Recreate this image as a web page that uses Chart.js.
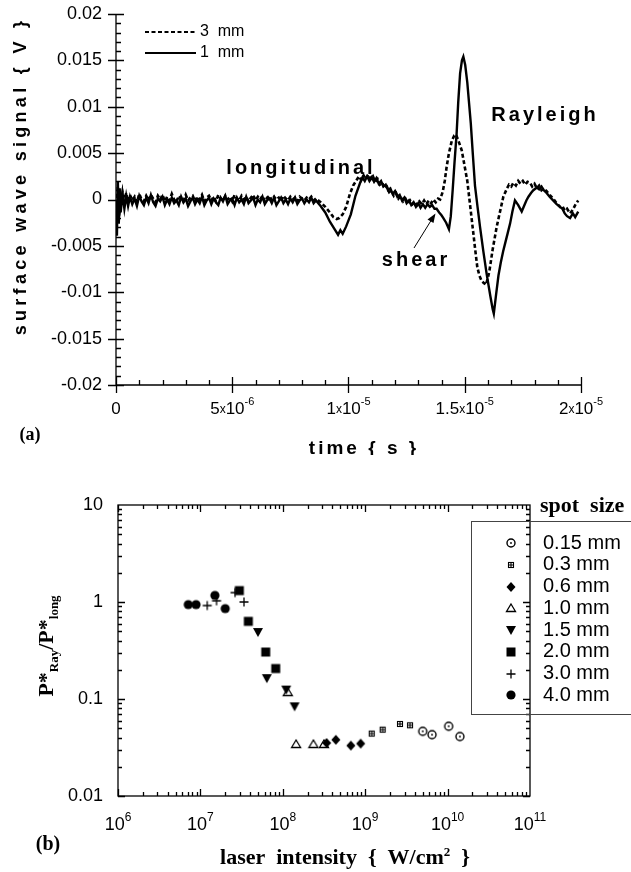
<!DOCTYPE html>
<html>
<head>
<meta charset="utf-8">
<script src="https://cdn.jsdelivr.net/npm/chart.js@4.4.1/dist/chart.umd.min.js"></script>
<style>
  html, body { margin: 0; padding: 0; background: #fff; }
  body { width: 631px; height: 872px; position: relative; overflow: hidden; }
  .panel { position: absolute; left: 0; width: 631px; }
  #waveWrap { top: 0; height: 455px; }
  #ratioWrap { top: 455px; height: 417px; }
</style>
</head>
<body>
<div class="panel" id="waveWrap"><canvas id="waveChart" width="631" height="455"></canvas></div>
<div class="panel" id="ratioWrap"><canvas id="ratioChart" width="631" height="417"></canvas></div>

<script>
// ── (a) surface wave signal: time in µs, signal in mV ─────────
const T_BASE = [0.6, 0.7, 0.8, 0.9, 1.0, 1.1, 1.2, 1.3, 1.4, 1.5,
  1.6, 1.7, 1.8, 1.9, 2.0, 2.1, 2.2, 2.3, 2.4, 2.5,
  2.6, 2.7, 2.8, 2.9, 3.0, 3.1, 3.2, 3.3, 3.4, 3.5,
  3.6, 3.7, 3.8, 3.9, 4.0, 4.1, 4.2, 4.3, 4.4, 4.5,
  4.6, 4.7, 4.8, 4.9, 5.0, 5.1, 5.2, 5.3, 5.4, 5.5,
  5.6, 5.7, 5.8, 5.9, 6.0, 6.1, 6.2, 6.3, 6.4, 6.5,
  6.6, 6.7, 6.8, 6.9, 7.0, 7.1, 7.2, 7.3, 7.4, 7.5,
  7.6, 7.7, 7.8, 7.9, 8.0, 8.1, 8.2, 8.3, 8.4, 8.5,
  8.6];

const T_3MM = [0, 0.04, 0.08, 0.12, 0.16, 0.2, 0.28, 0.36, 0.44, 0.52,
  ...T_BASE,
  8.8, 9.0, 9.2, 9.35, 9.49, 9.6, 9.75, 9.9, 10.06, 10.2, 10.35, 10.45, 10.55, 10.65, 10.75,
  10.85, 10.95, 11.05, 11.15, 11.25, 11.35, 11.45, 11.55, 11.65, 11.75, 11.85, 11.95, 12.05,
  12.15, 12.25, 12.35, 12.45, 12.55, 12.65, 12.75, 12.85, 12.95, 13.05, 13.15, 13.25, 13.35,
  13.45, 13.55, 13.65, 13.75, 13.85, 13.94, 14.05, 14.14, 14.22, 14.32, 14.44, 14.55, 14.62,
  14.72, 14.87, 14.98, 15.11, 15.22, 15.34, 15.44, 15.54, 15.63, 15.73, 15.82, 15.91, 16.0,
  16.06, 16.2, 16.37, 16.5, 16.66, 16.8, 16.9, 17.0, 17.09, 17.2, 17.3, 17.4, 17.5, 17.6,
  17.7, 17.81, 17.9, 18.0, 18.1, 18.2, 18.3, 18.4, 18.52, 18.65, 18.8, 18.95, 19.1, 19.2,
  19.3, 19.4, 19.53, 19.65, 19.75, 19.88];
const V_3MM = [0.6, -2.4, 1.4, -1.2, 0.9, -0.6, 0.8, -0.3, 0.7, -0.2,
  0.5, -0.1, 0.3, -0.3, 0.6, 0.0, -0.2, 0.4, -0.1, 0.5,
  0.1, -0.3, 0.4, 0.0, 0.5, -0.2, 0.3, -0.1, 0.6, 0.0,
  -0.3, 0.4, 0.1, -0.2, 0.5, -0.1, 0.2, 0.4, -0.2, 0.3,
  0.0, 0.5, -0.2, 0.2, 0.4, -0.1, 0.3, -0.2, 0.5, 0.1,
  -0.1, 0.4, 0.0, 0.3, -0.2, 0.5, 0.1, -0.1, 0.4, 0.0,
  0.3, -0.2, 0.2, 0.5, -0.1, 0.3, 0.0, 0.4, -0.2, 0.2,
  0.4, -0.1, 0.3, 0.0, 0.2, -0.2, 0.4, 0.1, -0.1, 0.3,
  0.0, 0.2, -0.2, 0.3, 0.1, -0.1, 0.2, 0.0, 0.3, -0.1,
  0.1,
  -0.3, -0.8, -1.4, -1.9, -2.1, -2.0, -1.6, -0.8, 0.6, 1.5, 2.1, 2.5, 2.1, 2.6, 2.2,
  2.7, 2.2, 2.5, 1.9, 2.2, 1.6, 1.8, 1.2, 1.4, 0.8, 1.0, 0.4, 0.7,
  0.1, 0.4, -0.2, 0.1, -0.4, -0.1, -0.5, -0.2, -0.6, -0.2, -0.5, -0.1, -0.5,
  -0.1, -0.4, 0.0, -0.3, 0.1, 0.0, 0.8, 2.0, 3.5, 5.0, 6.3, 6.9, 7.0,
  6.4, 5.3, 3.8, 2.0, -0.4, -3.0, -5.2, -7.3, -8.2, -8.8, -9.0, -9.2, -8.4,
  -7.7, -5.4, -3.0, -1.5, 0.3, 1.1, 1.6, 1.4, 1.8, 1.5, 2.0, 1.7, 2.0, 1.6,
  1.9, 1.8, 1.4, 1.7, 1.2, 1.5, 1.0, 1.2, 0.9, 0.5, 0.1, -0.4, -0.8, -0.7,
  -1.2, -1.0, -1.5, -1.1, -0.6, -0.1];

const T_1MM = [0, 0.04, 0.08, 0.12, 0.16, 0.2, 0.28, 0.36, 0.44, 0.52,
  ...T_BASE,
  8.8, 9.0, 9.2, 9.4, 9.55, 9.65, 9.75, 9.9, 10.1, 10.3, 10.5, 10.6, 10.7, 10.8, 10.9, 11.0,
  11.1, 11.2, 11.3, 11.4, 11.5, 11.6, 11.7, 11.8, 11.9, 12.0, 12.1, 12.2, 12.3, 12.4, 12.5,
  12.6, 12.7, 12.8, 12.9, 13.0, 13.1, 13.2, 13.3, 13.4, 13.5, 13.6, 13.7, 13.79, 13.9, 14.0,
  14.08, 14.2, 14.32, 14.4, 14.48, 14.56, 14.65, 14.72, 14.8, 14.88, 14.94, 15.02, 15.11,
  15.26, 15.35, 15.44, 15.55, 15.66, 15.8, 15.94, 16.1, 16.2, 16.25, 16.35, 16.45, 16.55,
  16.65, 16.75, 16.85, 16.95, 17.05, 17.16, 17.3, 17.45, 17.55, 17.65, 17.74, 17.85, 17.95,
  18.1, 18.2, 18.3, 18.4, 18.52, 18.65, 18.8, 18.95, 19.1, 19.2, 19.3, 19.4, 19.53, 19.65,
  19.75, 19.88];
const V_1MM = [-0.3, -3.9, 1.9, -2.6, 1.2, -1.4, 0.6, -1.0, 0.4, -0.7,
  0.3, -0.5, 0.1, -0.7, 0.4, -0.2, -0.6, 0.2, -0.4, 0.5,
  -0.3, -0.7, 0.1, -0.2, 0.3, -0.6, 0.0, -0.5, 0.2, -0.4,
  -0.1, -0.6, 0.3, -0.3, 0.1, -0.7, -0.2, 0.2, -0.5, 0.0,
  -0.4, 0.3, -0.6, -0.1, 0.2, -0.5, 0.1, -0.3, -0.6, 0.2,
  -0.2, 0.4, -0.5, -0.1, 0.1, -0.6, 0.2, -0.3, 0.0, -0.5,
  0.3, -0.4, -0.1, 0.2, -0.6, 0.0, -0.3, 0.3, -0.5, -0.1,
  0.1, -0.4, 0.2, -0.6, -0.2, 0.2, -0.4, 0.0, -0.5, 0.1,
  -0.3, 0.2, -0.5, -0.1, 0.1, -0.4, 0.0, -0.3, 0.2, -0.4,
  -0.1,
  -0.7, -1.4, -2.4, -3.2, -3.8, -3.3, -3.7, -2.9, -1.6, 0.4, 1.8, 2.4, 2.0, 2.5, 2.0, 2.4,
  1.9, 2.3, 1.7, 2.0, 1.4, 1.6, 1.0, 1.2, 0.6, 0.9, 0.3, 0.5, -0.1, 0.2, -0.4,
  -0.1, -0.6, -0.3, -0.8, -0.4, -0.9, -0.5, -0.9, -0.5, -0.8, -0.6, -1.0, -1.0, -1.4, -1.7,
  -2.0, -2.5, -3.2, -1.8, 1.0, 4.0, 7.1, 10.5, 13.6, 15.0, 15.4, 14.5, 12.6,
  8.2, 4.8, 1.5, -0.8, -3.0, -5.6, -8.0, -10.4, -11.8, -12.3, -10.2, -8.2, -6.8,
  -5.6, -4.6, -3.6, -2.6, -1.3, -0.1, -0.6, -1.3, -0.7, -0.1, 0.3, 0.7, 1.0,
  1.3, 1.1, 1.4, 1.0, 0.7, 0.3, -0.1, -0.5, -0.8, -1.0, -1.5, -1.8, -2.0, -1.5,
  -1.9, -1.3];

const WAVE_LABELS = ['3  mm', '1  mm'];
const WAVE_Y_TICKS = [-0.02, -0.015, -0.01, -0.005, 0, 0.005, 0.01, 0.015, 0.02];
const WAVE_Y_LABELS = ['-0.02', '-0.015', '-0.01', '-0.005', '0', '0.005', '0.01', '0.015', '0.02'];
const WAVE_X_TICKS = [0, 5e-6, 1e-5, 1.5e-5, 2e-5];
const WAVE_X_MANT = ['0', '5', '1', '1.5', '2'];
const WAVE_X_EXP = ['', '-6', '-5', '-5', '-5'];

// ── (b) P*Ray / P*long vs laser intensity ─────────────────────
const SPOT_SIZES = ['0.15 mm', '0.3 mm', '0.6 mm', '1.0 mm', '1.5 mm', '2.0 mm', '3.0 mm', '4.0 mm'];
const I_015 = [4.99e9, 6.47e9, 1.03e10, 1.41e10];
const R_015 = [0.0464, 0.0429, 0.0523, 0.041];
const I_03 = [1.2e9, 1.63e9, 2.64e9, 3.5e9];
const R_03 = [0.044, 0.0483, 0.0553, 0.0536];
const I_06 = [3.4e8, 4.4e8, 6.7e8, 8.8e8];
const R_06 = [0.0352, 0.038, 0.0331, 0.0347];
const I_10 = [1.15e8, 1.45e8, 2.35e8, 3.16e8];
const R_10 = [0.118, 0.0344, 0.0344, 0.0344];
const I_15 = [5.0e7, 6.4e7, 1.1e8, 1.39e8];
const R_15 = [0.49, 0.164, 0.125, 0.084];
const I_20 = [2.97e7, 3.82e7, 6.2e7, 8.2e7];
const R_20 = [1.31, 0.632, 0.305, 0.206];
const I_30 = [1.21e7, 1.57e7, 2.63e7, 3.38e7];
const R_30 = [0.92, 1.03, 1.25, 1.0];
const I_40 = [7.13e6, 8.85e6, 1.5e7, 2.0e7];
const R_40 = [0.94, 0.94, 1.17, 0.855];

const RATIO_X_EXP = [6, 7, 8, 9, 10, 11];
const RATIO_Y_TICKS = [0.01, 0.1, 1, 10];
const RATIO_Y_LABELS = ['0.01', '0.1', '1', '10'];

const SANS = '"Liberation Sans", Arial, Helvetica, sans-serif';
const SERIF = '"Liberation Serif", "Times New Roman", Times, serif';

// draw a run of text pieces [text, font, dy] one after the other
function drawRich(ctx, parts, x, y, align) {
  let w = 0;
  parts.forEach(p => { ctx.font = p[1]; w += ctx.measureText(p[0]).width; });
  let cx = align === 'center' ? x - w / 2 : (align === 'right' ? x - w : x);
  ctx.textAlign = 'left';
  parts.forEach(p => {
    ctx.font = p[1];
    ctx.fillText(p[0], cx, y + (p[2] || 0));
    cx += ctx.measureText(p[0]).width;
  });
}

function spaced(ctx, text, x, y, font, spacing) {
  ctx.font = font;
  ctx.letterSpacing = spacing + 'px';
  ctx.fillText(text, x, y);
  ctx.letterSpacing = '0px';
}

// ── Marker images for the scatter panel ───────────────────────
function makeMarker(kind) {
  const c = document.createElement('canvas');
  c.width = 14; c.height = 14;
  const g = c.getContext('2d');
  const m = 7;
  g.fillStyle = '#000'; g.strokeStyle = '#000'; g.lineWidth = 1.4;
  g.beginPath();
  switch (kind) {
    case 'ocircle':
      g.arc(m, m, 4, 0, Math.PI * 2); g.stroke();
      g.beginPath(); g.arc(m, m, 0.9, 0, Math.PI * 2); g.fill();
      break;
    case 'sqplus':
      g.lineWidth = 1.1;
      g.strokeRect(4.5, 4.5, 5, 5);
      g.moveTo(7, 4.5); g.lineTo(7, 9.5); g.moveTo(4.5, 7); g.lineTo(9.5, 7); g.stroke();
      break;
    case 'diamond':
      g.moveTo(m, m - 5); g.lineTo(m + 4.5, m); g.lineTo(m, m + 5); g.lineTo(m - 4.5, m);
      g.closePath(); g.fill();
      break;
    case 'otri':
      g.lineWidth = 1.3;
      g.moveTo(m, m - 4); g.lineTo(m + 4.5, m + 3.5); g.lineTo(m - 4.5, m + 3.5);
      g.closePath(); g.stroke();
      break;
    case 'dtri':
      g.moveTo(m - 5, m - 4); g.lineTo(m + 5, m - 4); g.lineTo(m, m + 5);
      g.closePath(); g.fill();
      break;
    case 'square':
      g.fillRect(m - 4.5, m - 4.5, 9, 9);
      break;
    case 'plus':
      g.lineWidth = 1.3;
      g.moveTo(m, m - 4.5); g.lineTo(m, m + 4.5); g.moveTo(m - 4.5, m); g.lineTo(m + 4.5, m); g.stroke();
      break;
    default:
      g.arc(m, m, 4.6, 0, Math.PI * 2); g.fill();
  }
  return c;
}

const MARKERS = ['ocircle', 'sqplus', 'diamond', 'otri', 'dtri', 'square', 'plus', 'dot']
  .map(makeMarker);

// ── (a) decorations: axes, ticks, labels, annotations ─────────
const waveDecor = {
  id: 'waveDecor',
  afterDraw(chart) {
    const { ctx, chartArea: a, scales: { x, y } } = chart;
    ctx.save();
    ctx.strokeStyle = '#000'; ctx.fillStyle = '#000'; ctx.lineWidth = 1.3;

    ctx.beginPath();
    ctx.moveTo(a.left, a.top); ctx.lineTo(a.left, a.bottom); ctx.lineTo(a.right, a.bottom);
    for (let i = -20; i <= 20; i++) {
      const py = Math.round(y.getPixelForValue(i / 1000)) + 0.5;
      if (i % 5 === 0) { ctx.moveTo(a.left - 8, py); ctx.lineTo(a.left + 8, py); }
      else { ctx.moveTo(a.left, py); ctx.lineTo(a.left + 5, py); }
    }
    for (let i = 0; i <= 20; i++) {
      const px = Math.round(x.getPixelForValue(i * 1e-6)) + 0.5;
      if (i % 5 === 0) { ctx.moveTo(px, a.bottom - 8); ctx.lineTo(px, a.bottom + 8); }
      else { ctx.moveTo(px, a.bottom); ctx.lineTo(px, a.bottom - 5); }
    }
    ctx.stroke();

    // tick labels
    ctx.textBaseline = 'middle';
    ctx.textAlign = 'right';
    ctx.font = '18px ' + SANS;
    WAVE_Y_TICKS.forEach((v, i) => ctx.fillText(WAVE_Y_LABELS[i], 102, y.getPixelForValue(v)));
    WAVE_X_TICKS.forEach((v, i) => {
      const px = x.getPixelForValue(v);
      if (!WAVE_X_EXP[i]) { drawRich(ctx, [[WAVE_X_MANT[i], '17px ' + SANS]], px, 409, 'center'); return; }
      drawRich(ctx, [
        [WAVE_X_MANT[i], '17px ' + SANS],
        ['x', '12px ' + SANS, 1],
        ['10', '17px ' + SANS],
        [WAVE_X_EXP[i], '11px ' + SANS, -7]
      ], px, 409, 'center');
    });

    // axis titles
    ctx.textBaseline = 'alphabetic';
    ctx.textAlign = 'center';
    spaced(ctx, 'time { s }', 364, 454, 'bold 19px ' + SANS, 3);
    ctx.save();
    ctx.translate(26, 176);
    ctx.rotate(-Math.PI / 2);
    spaced(ctx, 'surface wave signal { V }', 0, 0, 'bold 18px ' + SANS, 4.3);
    ctx.restore();

    ctx.font = 'bold 18px ' + SERIF;
    ctx.fillText('(a)', 30, 440);

    // annotations
    spaced(ctx, 'longitudinal', 301, 174, 'bold 20px ' + SANS, 3);
    spaced(ctx, 'Rayleigh', 545, 121, 'bold 20px ' + SANS, 3);
    spaced(ctx, 'shear', 416, 266, 'bold 20px ' + SANS, 3);

    // shear arrow
    ctx.lineWidth = 1;
    ctx.beginPath(); ctx.moveTo(414, 248); ctx.lineTo(432, 219); ctx.stroke();
    ctx.beginPath();
    ctx.moveTo(435.5, 213.5); ctx.lineTo(427.5, 219.5); ctx.lineTo(433.5, 223); ctx.closePath(); ctx.fill();

    // legend
    const ds = chart.data.datasets;
    ctx.textAlign = 'left'; ctx.textBaseline = 'middle';
    ctx.font = '16px ' + SANS;
    [32, 53].forEach((ly, i) => {
      ctx.save();
      ctx.lineWidth = 2;
      ctx.setLineDash(ds[i].borderDash || []);
      ctx.beginPath(); ctx.moveTo(145, ly); ctx.lineTo(196, ly); ctx.stroke();
      ctx.restore();
      ctx.fillText(WAVE_LABELS[i], 200, ly);
    });
    ctx.restore();
  }
};

function toPoints(ts, vs) {
  return ts.map((t, i) => ({ x: t * 1e-6, y: vs[i] * 1e-3 }));
}

new Chart(document.getElementById('waveChart'), {
  type: 'scatter',
  data: {
    datasets: [
      { label: WAVE_LABELS[0], data: toPoints(T_3MM, V_3MM), showLine: true, borderColor: '#000',
        borderWidth: 2.6, borderDash: [4, 2.5], pointRadius: 0, tension: 0 },
      { label: WAVE_LABELS[1], data: toPoints(T_1MM, V_1MM), showLine: true, borderColor: '#000',
        borderWidth: 2.4, pointRadius: 0, tension: 0 }
    ]
  },
  options: {
    responsive: false,
    animation: false,
    events: [],
    layout: { padding: { top: 14, right: 50, left: 0, bottom: 0 } },
    plugins: { legend: { display: false }, tooltip: { enabled: false } },
    scales: {
      x: { type: 'linear', min: 0, max: 2e-5, grid: { display: false }, border: { display: false },
           ticks: { display: false }, afterFit: s => { s.height = 70; } },
      y: { type: 'linear', min: -0.02, max: 0.02, grid: { display: false }, border: { display: false },
           ticks: { display: false }, afterFit: s => { s.width = 116; } }
    }
  },
  plugins: [waveDecor]
});

// ── (b) decorations ───────────────────────────────────────────
const ratioDecor = {
  id: 'ratioDecor',
  afterDraw(chart) {
    const { ctx, chartArea: a, scales: { x, y } } = chart;
    ctx.save();
    ctx.strokeStyle = '#000'; ctx.fillStyle = '#000'; ctx.lineWidth = 1.3;
    ctx.strokeRect(a.left, a.top, a.right - a.left, a.bottom - a.top);

    ctx.beginPath();
    for (let d = 6; d <= 10; d++) {
      for (let k = 1; k <= 9; k++) {
        const px = Math.round(x.getPixelForValue(k * Math.pow(10, d))) + 0.5;
        const len = k === 1 ? 7 : 4;
        ctx.moveTo(px, a.bottom); ctx.lineTo(px, a.bottom - len);
        ctx.moveTo(px, a.top); ctx.lineTo(px, a.top + len);
      }
    }
    for (let d = -2; d <= 0; d++) {
      for (let k = 1; k <= 9; k++) {
        const py = Math.round(y.getPixelForValue(k * Math.pow(10, d))) + 0.5;
        const len = k === 1 ? 7 : 4;
        ctx.moveTo(a.left, py); ctx.lineTo(a.left + len, py);
        ctx.moveTo(a.right, py); ctx.lineTo(a.right - len, py);
      }
    }
    ctx.stroke();

    ctx.textBaseline = 'middle';
    ctx.textAlign = 'right';
    ctx.font = '18px ' + SANS;
    RATIO_Y_TICKS.forEach((v, i) => ctx.fillText(RATIO_Y_LABELS[i], 103, y.getPixelForValue(v)));
    RATIO_X_EXP.forEach(e => {
      drawRich(ctx, [['10', '18px ' + SANS, 2], [String(e), '12px ' + SANS, -5]],
        x.getPixelForValue(Math.pow(10, e)), 368, 'center');
    });

    // titles
    ctx.textBaseline = 'alphabetic';
    drawRich(ctx, [
      ['laser  intensity  {  W/cm', 'bold 22px ' + SERIF],
      ['2', 'bold 13px ' + SERIF, -8],
      ['  }', 'bold 22px ' + SERIF]
    ], 345, 409, 'center');
    ctx.save();
    ctx.translate(53, 191);
    ctx.rotate(-Math.PI / 2);
    drawRich(ctx, [
      ['P*', 'bold 22px ' + SERIF],
      ['Ray', 'bold 13px ' + SERIF, 5],
      ['/P*', 'bold 22px ' + SERIF],
      ['long', 'bold 13px ' + SERIF, 5]
    ], 0, 0, 'center');
    ctx.restore();
    ctx.textAlign = 'center';
    ctx.font = 'bold 20px ' + SERIF;
    ctx.fillText('(b)', 48, 395);
    ctx.textAlign = 'left';
    ctx.font = 'bold 22px ' + SERIF;
    ctx.fillText('spot  size', 540, 57);

    // legend box
    ctx.lineWidth = 1;
    ctx.strokeStyle = '#444';
    ctx.strokeRect(471.5, 66.5, 200, 193);
    ctx.textBaseline = 'middle';
    ctx.font = '20px ' + SANS;
    SPOT_SIZES.forEach((lbl, i) => {
      const ly = 88 + i * 21.76;
      const img = MARKERS[i];
      ctx.drawImage(img, Math.round(511 - img.width / 2), Math.round(ly - img.height / 2));
      ctx.fillText(lbl, 543, ly);
    });
    ctx.restore();
  }
};

const RATIO_SERIES = [[I_015, R_015], [I_03, R_03], [I_06, R_06], [I_10, R_10],
                      [I_15, R_15], [I_20, R_20], [I_30, R_30], [I_40, R_40]];

new Chart(document.getElementById('ratioChart'), {
  type: 'scatter',
  data: {
    datasets: RATIO_SERIES.map(([xs, ys], i) => ({
      label: SPOT_SIZES[i],
      data: xs.map((v, j) => ({ x: v, y: ys[j] })),
      pointStyle: MARKERS[i],
      pointRadius: 5,
      borderColor: '#000',
      backgroundColor: '#000'
    }))
  },
  options: {
    responsive: false,
    animation: false,
    events: [],
    layout: { padding: { top: 50, right: 101, left: 0, bottom: 0 } },
    plugins: { legend: { display: false }, tooltip: { enabled: false } },
    scales: {
      x: { type: 'logarithmic', min: 1e6, max: 1e11, grid: { display: false }, border: { display: false },
           ticks: { display: false }, afterFit: s => { s.height = 76; } },
      y: { type: 'logarithmic', min: 0.01, max: 10, grid: { display: false }, border: { display: false },
           ticks: { display: false }, afterFit: s => { s.width = 118; } }
    }
  },
  plugins: [ratioDecor]
});
</script>
</body>
</html>
